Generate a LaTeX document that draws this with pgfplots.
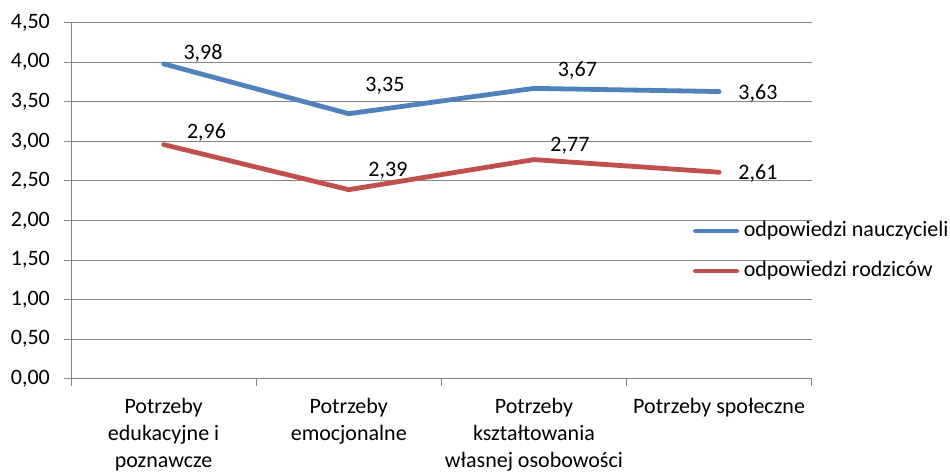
\documentclass[border=0pt]{standalone}
\usepackage{fontspec}
\setmainfont{Carlito}
\usepackage{pgfplots}
\usepackage{pgfplotstable}
\pgfplotsset{compat=1.18}
\definecolor{ser1}{RGB}{79,129,189}
\definecolor{ser2}{RGB}{192,80,77}
\definecolor{gridc}{RGB}{134,134,134}
\newcommand\F{\fontsize{22bp}{26.7bp}\selectfont}
\pgfplotstableread{
x y dx up
0 3.98 39.4 4.8
1 3.35 36.2 22.7
2 3.67 43.5 11.4
3 3.63 38.8 -8.4
}\blueT
\pgfplotstableread{
x y dx up
0 2.96 42.9 5.6
1 2.39 39.2 12.7
2 2.77 36.0 7.6
3 2.61 38.8 -7.7
}\redT
\begin{document}
\begin{tikzpicture}
\path[use as bounding box] (0,0) rectangle (950bp,472bp);
\begin{axis}[
  at={(71bp,93.2bp)}, anchor=south west,
  scale only axis, width=740.7bp, height=356.1bp,
  xmin=-0.5, xmax=3.5, ymin=0, ymax=4.5,
  clip=false,
  axis lines=left,
  axis line style={-, gridc, line width=1bp},
  ymajorgrids,
  grid style={gridc, line width=1bp},
  tick align=outside,
  major tick length=7bp,
  tick style={gridc, line width=1bp},
  ytick={0,0.5,1,1.5,2,2.5,3,3.5,4,4.5},
  yticklabel style={font=\F, inner sep=0pt, anchor=east, xshift=-14bp,
    /pgf/number format/.cd, fixed, fixed zerofill, precision=2, use comma, assume math mode=true},
  xtick={-0.5,0.5,1.5,2.5,3.5},
  x tick label as interval,
  xticklabels={{Potrzeby\\edukacyjne i\\poznawcze},{Potrzeby\\emocjonalne},{Potrzeby\\kształtowania\\własnej osobowości},{Potrzeby społeczne}},
  xticklabel style={font=\F, align=center, inner sep=0pt, anchor=north, yshift=-12.5bp},
  legend style={at={(axis description cs:0.8366,0.4431)}, anchor=north west,
    draw=none, fill=none, inner sep=0pt, outer sep=0pt, row sep=20bp, column sep=2.3bp,
    font=\F, nodes={inner sep=0pt, text height=15bp, text depth=5bp}},
  legend cell align=left,
  legend image code/.code={\path (0bp,0bp) (46bp,0bp); \draw[#1, line cap=round] (2.4bp,0bp) -- (43.6bp,0bp);},
  nodes near coords={\pgfmathprintnumber[fixed,fixed zerofill,precision=2,use comma,assume math mode=true]{\pgfplotspointmeta}},
  point meta=y,
  visualization depends on={\thisrow{dx}\as\dx},
  visualization depends on={\thisrow{up}\as\up},
  every node near coord/.append style={font=\F, text=black, inner sep=0pt, anchor=base, xshift=\dx bp, yshift=\up bp},
]
\addplot[ser1, line width=4.8bp, line join=round, line cap=round] table[x=x,y=y]{\blueT};
\addlegendentry{odpowiedzi nauczycieli}
\addplot[ser2, line width=4.8bp, line join=round, line cap=round] table[x=x,y=y]{\redT};
\addlegendentry{odpowiedzi rodziców}
\end{axis}
\end{tikzpicture}
\end{document}
